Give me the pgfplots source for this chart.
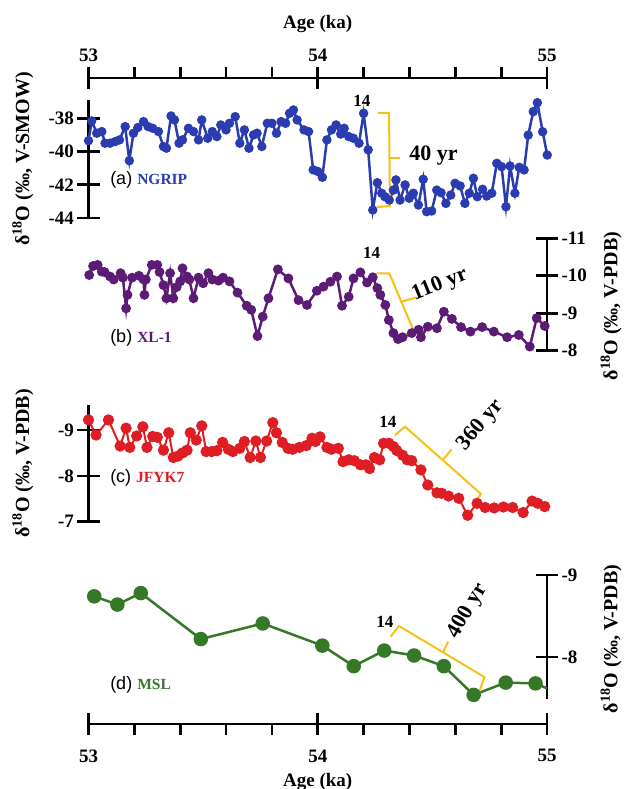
\documentclass[border=0pt]{standalone}
\usepackage{fontspec}
\setmainfont{Liberation Serif}
\newfontfamily\sansf{Liberation Sans}
\usepackage{pgfplots}
\pgfplotsset{compat=1.18}
\definecolor{cA}{RGB}{42,60,175}
\definecolor{cB}{RGB}{92,28,118}
\definecolor{cC}{RGB}{222,30,36}
\definecolor{cD}{RGB}{52,120,40}
\definecolor{cY}{RGB}{247,192,25}
\pgfplotsset{
  panel/.style={scale only axis, width=458.5pt, xmin=53, xmax=55,
    axis x line=none, clip=false,
    axis line style={line width=2.7pt, black},
    tick style={line width=2.7pt, black},
    tick align=center, major tick length=22pt,
    ticklabel style={font=\fontsize{19}{21}\selectfont\bfseries},
    minor tick num=0},
  xframe/.style={scale only axis, width=458.5pt, height=10pt, xmin=53, xmax=55, ymin=0, ymax=1,
    axis y line=none, clip=false,
    axis line style={line width=2.7pt, black},
    tick style={line width=2.7pt, black},
    tick align=center, major tick length=22pt, minor tick length=11pt,
    xtick={53,54,55}, xticklabels={53,54,55}, minor x tick num=4,
    ticklabel style={font=\fontsize{19}{21}\selectfont\bfseries},
    xlabel={Age (ka)},
    xlabel style={font=\fontsize{19}{21}\selectfont\bfseries}}
}
\tikzset{
  brk/.style={cY, line width=2pt},
  num/.style={font=\fontsize{17}{19}\selectfont\bfseries},
  yrs/.style={font=\fontsize{22}{24}\selectfont\bfseries},
  ylab/.style={font=\fontsize{20}{22}\selectfont\bfseries, rotate=90, anchor=center},
  plab/.style={font=\fontsize{18}{20}\selectfont, anchor=west, inner sep=0pt}
}
\newcommand{\plabname}{\fontsize{15.5}{18}\selectfont\rmfamily\bfseries}
\begin{document}
\begin{tikzpicture}
\useasboundingbox (0pt,0pt) rectangle (625pt,-789pt);
% top x axis
\begin{axis}[xframe, at={(317.75pt,-83pt)}, anchor=center, axis x line*=top,
  minor tick style={yshift=5.5pt},
  xticklabel style={yshift=2pt},
  xlabel style={at={(axis description cs:0.5,1)}, anchor=base, yshift=49pt}]
\end{axis}
% bottom x axis
\begin{axis}[xframe, at={(317.75pt,-719pt)}, anchor=center, axis x line*=bottom,
  minor tick style={yshift=-5.5pt},
  xticklabel style={yshift=-11pt},
  xlabel style={at={(axis description cs:0.5,0)}, anchor=base, yshift=-62pt}]
\end{axis}
% (a) NGRIP
\begin{axis}[panel, at={(317.75pt,-159pt)}, anchor=center, height=118pt,
  ymin=-44, ymax=-36.9, axis y line*=left,
  ytick={-44,-42,-40,-38}, yticklabels={-44,-42,-40,-38}]
\addplot[cA, line width=2.5pt, mark=*, mark size=3.4pt] coordinates {
(53.000,-39.35) (53.014,-38.16) (53.036,-38.90) (53.058,-38.80) (53.072,-39.50)
(53.094,-39.50) (53.116,-39.40) (53.135,-39.30) (53.160,-38.50) (53.178,-40.55)
(53.196,-38.90) (53.215,-38.56) (53.240,-38.20) (53.260,-38.50) (53.280,-38.60)
(53.305,-38.80) (53.327,-39.70) (53.340,-39.80) (53.360,-37.86) (53.375,-38.10)
(53.395,-39.50) (53.410,-39.30) (53.436,-38.60) (53.458,-38.80) (53.480,-39.30)
(53.494,-38.10) (53.520,-39.20) (53.540,-38.80) (53.560,-39.10) (53.577,-38.40)
(53.600,-38.70) (53.615,-38.30) (53.640,-37.90) (53.660,-39.50) (53.680,-38.70)
(53.700,-39.80) (53.720,-39.00) (53.735,-38.90) (53.756,-39.70) (53.780,-38.30)
(53.800,-38.30) (53.820,-38.90) (53.840,-38.20) (53.860,-38.30) (53.877,-37.70)
(53.894,-37.50) (53.910,-38.10) (53.940,-38.70) (53.960,-38.80) (53.980,-41.10)
(54.000,-41.20) (54.020,-41.55) (54.040,-39.30) (54.060,-38.70) (54.080,-38.40)
(54.100,-38.95) (54.115,-38.60) (54.135,-39.10) (54.155,-39.20) (54.180,-39.50)
(54.200,-37.70) (54.220,-39.90) (54.240,-43.52) (54.260,-41.88) (54.279,-42.51)
(54.293,-42.72) (54.312,-42.92) (54.330,-42.32) (54.341,-41.71) (54.359,-42.92)
(54.381,-42.01) (54.399,-42.81) (54.417,-42.51) (54.439,-43.22) (54.460,-41.67)
(54.475,-43.62) (54.497,-43.58) (54.519,-42.32) (54.538,-42.48) (54.559,-43.12)
(54.580,-42.62) (54.599,-41.91) (54.621,-42.07) (54.642,-43.12) (54.661,-42.51)
(54.679,-41.61) (54.696,-42.72) (54.719,-42.27) (54.737,-42.68) (54.759,-42.51)
(54.781,-40.71) (54.802,-40.91) (54.821,-43.32) (54.839,-40.87) (54.860,-42.51)
(54.879,-40.95) (54.900,-41.11) (54.918,-39.01) (54.940,-37.60) (54.958,-37.06)
(54.981,-38.81) (55.001,-40.21)};
\draw[brk] (axis cs:54.263,-37.68) -- (axis cs:54.311,-37.68) -- (axis cs:54.315,-43.28) -- (axis cs:54.258,-43.34);
\draw[brk] (axis cs:54.313,-40.39) -- (axis cs:54.359,-40.39);
\node[num] at (axis cs:54.193,-36.93) {14};
\node[yrs] at (axis cs:54.505,-40.25) {40 yr};
\node[plab] at (axis cs:53.094,-41.71) {\sansf (a) \plabname\color{cA}NGRIP};
\node[ylab] at (rel axis cs:-0.143,0.5) {δ\textsuperscript{18}O (‰, V-SMOW)};
\end{axis}
% (b) XL-1
\begin{axis}[panel, at={(317.75pt,-294.5pt)}, anchor=center, height=112.4pt,
  ymin=-11, ymax=-8, y dir=reverse, axis y line*=right,
  ytick={-11,-10,-9,-8}, yticklabels={-11,-10,-9,-8}]
\addplot[cB, line width=2.5pt, mark=*, mark size=3.6pt] coordinates {
(53.003,-10.02) (53.020,-10.26) (53.040,-10.29) (53.058,-10.11) (53.070,-10.10)
(53.094,-9.98) (53.110,-9.90) (53.140,-10.07) (53.150,-9.95) (53.164,-9.13)
(53.170,-9.49) (53.190,-9.95) (53.220,-10.00) (53.240,-9.90) (53.244,-9.49)
(53.250,-9.90) (53.276,-10.29) (53.300,-10.29) (53.310,-10.10) (53.327,-9.75)
(53.340,-9.40) (53.356,-10.07) (53.370,-9.40) (53.385,-9.70) (53.400,-9.85)
(53.410,-10.20) (53.430,-9.98) (53.440,-9.90) (53.458,-9.40) (53.480,-9.95)
(53.500,-9.80) (53.523,-10.07) (53.540,-9.90) (53.567,-9.87) (53.587,-9.95)
(53.615,-9.85) (53.650,-9.55) (53.690,-9.20) (53.710,-9.09) (53.737,-8.39)
(53.760,-8.91) (53.785,-9.40) (53.826,-10.17) (53.872,-9.93) (53.916,-9.35)
(53.953,-9.22) (53.996,-9.60) (54.025,-9.71) (54.055,-9.84) (54.084,-9.98)
(54.106,-9.20) (54.135,-9.44) (54.156,-9.93) (54.186,-10.09) (54.215,-9.82)
(54.240,-9.96) (54.260,-9.67) (54.273,-9.49) (54.295,-9.22) (54.310,-8.82)
(54.330,-8.47) (54.350,-8.31) (54.370,-8.36) (54.410,-8.47) (54.440,-8.56)
(54.450,-8.36) (54.480,-8.64) (54.520,-8.60) (54.550,-9.04) (54.585,-8.85)
(54.625,-8.63) (54.666,-8.51) (54.717,-8.63) (54.768,-8.51) (54.826,-8.36)
(54.877,-8.42) (54.925,-8.11) (54.955,-8.87) (54.990,-8.66)};
\draw[brk] (axis cs:54.257,-10.066) -- (axis cs:54.312,-10.066) -- (axis cs:54.417,-8.553) -- (axis cs:54.366,-8.358);
\draw[brk] (axis cs:54.366,-9.308) -- (axis cs:54.432,-9.425);
\node[num] at (axis cs:54.235,-10.60) {14};
\node[yrs, rotate=22] at (axis cs:54.533,-9.754) {110 yr};
\node[plab] at (axis cs:53.094,-8.34) {\sansf (b) \plabname\color{cB}XL-1};
\node[ylab] at (axis cs:55.28,-9.19) {δ\textsuperscript{18}O (‰, V-PDB)};
\end{axis}
% (c) JFYK7
\begin{axis}[panel, at={(317.75pt,-463.35pt)}, anchor=center, height=116.7pt,
  ymin=-9.545, ymax=-7, y dir=reverse, axis y line*=left,
  ytick={-9,-8,-7}, yticklabels={-9,-8,-7}]
\addplot[cC, line width=2pt, mark=*, mark size=4.6pt] coordinates {
(53.000,-9.22) (53.033,-8.89) (53.087,-9.22) (53.138,-8.65) (53.164,-9.04)
(53.180,-8.62) (53.210,-8.87) (53.237,-9.07) (53.255,-8.62) (53.280,-8.86)
(53.300,-8.84) (53.327,-8.56) (53.350,-8.94) (53.370,-8.40) (53.390,-8.43)
(53.410,-8.50) (53.430,-8.56) (53.444,-8.94) (53.470,-8.78) (53.494,-9.09)
(53.513,-8.53) (53.537,-8.53) (53.560,-8.55) (53.585,-8.73) (53.610,-8.58)
(53.630,-8.53) (53.660,-8.60) (53.680,-8.75) (53.705,-8.40) (53.730,-8.76)
(53.750,-8.40) (53.777,-8.76) (53.804,-9.16) (53.820,-8.94) (53.845,-8.73)
(53.870,-8.60) (53.890,-8.58) (53.920,-8.62) (53.950,-8.66) (53.975,-8.82)
(53.990,-8.75) (54.010,-8.85) (54.040,-8.62) (54.060,-8.58) (54.090,-8.60)
(54.110,-8.31) (54.135,-8.35) (54.160,-8.33) (54.186,-8.24) (54.210,-8.24)
(54.226,-8.16) (54.247,-8.40) (54.270,-8.35) (54.287,-8.71) (54.310,-8.71)
(54.330,-8.64) (54.345,-8.55) (54.370,-8.45) (54.390,-8.35) (54.410,-8.33)
(54.450,-8.13) (54.480,-7.80) (54.520,-7.63) (54.540,-7.62) (54.570,-7.56)
(54.615,-7.51) (54.654,-7.14) (54.695,-7.40) (54.730,-7.31) (54.770,-7.30)
(54.810,-7.32) (54.850,-7.31) (54.896,-7.20) (54.935,-7.45) (54.960,-7.40)
(54.990,-7.33)};
\draw[brk] (axis cs:54.337,-8.891) -- (axis cs:54.381,-9.072) -- (axis cs:54.712,-7.604) -- (axis cs:54.679,-7.386);
\draw[brk] (axis cs:54.548,-8.361) -- (axis cs:54.584,-8.579);
\node[num] at (axis cs:54.306,-9.174) {14};
\node[yrs, rotate=50] at (axis cs:54.712,-9.10) {360 yr};
\node[plab] at (axis cs:53.094,-7.953) {\sansf (c) \plabname\color{cC}JFYK7};
\node[ylab] at (rel axis cs:-0.143,0.5) {δ\textsuperscript{18}O (‰, V-PDB)};
\end{axis}
% (d) MSL
\begin{axis}[panel, at={(317.75pt,-637pt)}, anchor=center, height=124pt,
  ymin=-9, ymax=-7.49, y dir=reverse, axis y line*=right,
  ytick={-9,-8}, yticklabels={-9,-8}]
\addplot[cD, line width=2.5pt, no marks] coordinates {(53.000,-8.76) (53.025,-8.74)};
\addplot[cD, line width=2.5pt, no marks] coordinates {(54.950,-7.68) (55.000,-7.62)};
\addplot[cD, line width=2.5pt, mark=*, mark size=6pt] coordinates {
(53.025,-8.74) (53.126,-8.64) (53.228,-8.78) (53.490,-8.22) (53.760,-8.41)
(54.020,-8.14) (54.157,-7.89) (54.290,-8.08) (54.420,-8.02) (54.550,-7.89)
(54.680,-7.54) (54.820,-7.69) (54.950,-7.68)};
\draw[brk] (axis cs:54.318,-8.25) -- (axis cs:54.354,-8.38) -- (axis cs:54.727,-7.757) -- (axis cs:54.705,-7.582);
\draw[brk] (axis cs:54.548,-8.068) -- (axis cs:54.569,-8.19);
\node[num] at (axis cs:54.293,-8.429) {14};
\node[yrs, rotate=60] at (axis cs:54.655,-8.56) {400 yr};
\node[plab] at (axis cs:53.094,-7.663) {\sansf (d) \plabname\color{cD}MSL};
\node[ylab] at (axis cs:55.28,-8.222) {δ\textsuperscript{18}O (‰, V-PDB)};
\end{axis}
\end{tikzpicture}
\end{document}
